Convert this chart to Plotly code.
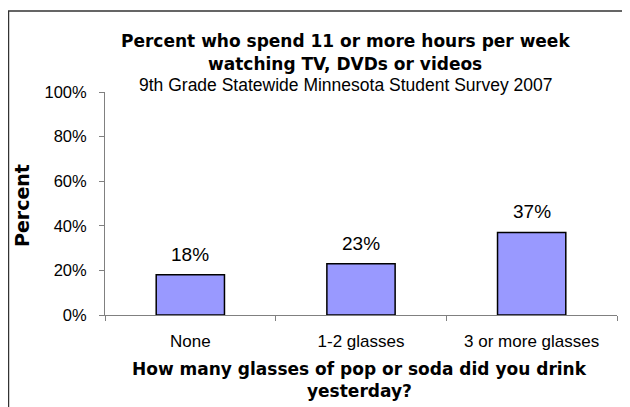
import plotly.graph_objects as go

categories = ["None", "1-2 glasses", "3 or more glasses"]
values = [18, 23, 37]
y_ticks = [0, 20, 40, 60, 80, 100]
y_tick_labels = ["0%", "20%", "40%", "60%", "80%", "100%"]

title_line1 = "Percent who spend 11 or more hours per week"
title_line2 = "watching TV, DVDs or videos"
subtitle = "9th Grade Statewide Minnesota Student Survey 2007"
x_title_1 = "How many glasses of pop or soda did you drink"
x_title_2 = "yesterday?"
y_title = "Percent"

ARIAL = "Arial, Liberation Sans, sans-serif"
BOLD = "DejaVu Sans, Arial, sans-serif"

fig = go.Figure()
fig.add_trace(go.Bar(
    x=categories, y=values, width=0.4,
    marker=dict(color="#9999FF", line=dict(color="#000000", width=1.5)),
    hoverinfo="skip",
))

for c, v in zip(categories, values):
    fig.add_annotation(x=c, y=v, text=f"{v}%", showarrow=False, yanchor="bottom",
                       yshift=8, font=dict(family=ARIAL, size=19, color="#000"))

def ann(text, x, y, font, textangle=0):
    fig.add_annotation(text=text, x=x, y=y, xref="paper", yref="paper", showarrow=False,
                       xanchor="center", yanchor="middle", font=font, textangle=textangle)

ann(title_line1, 0.469, 1.2287, dict(family=BOLD, size=17, color="#000", weight="bold"))
ann(title_line2, 0.469, 1.125, dict(family=BOLD, size=17, color="#000", weight="bold"))
ann(subtitle, 0.469, 1.0314, dict(family=ARIAL, size=17.5, color="#000"))
ann(x_title_1, 0.498, -0.2422, dict(family=BOLD, size=17, color="#000", weight="bold"))
ann(x_title_2, 0.498, -0.3408, dict(family=BOLD, size=17, color="#000", weight="bold"))
ann(y_title, -0.162, 0.489, dict(family=BOLD, size=19, color="#000", weight="bold"), textangle=-90)

fig.add_shape(type="rect", xref="paper", yref="paper", x0=-0.1885, x1=1.05, y0=-0.45, y1=1.3632,
              line=dict(color="#333333", width=1.5), fillcolor="rgba(0,0,0,0)", layer="below")

fig.update_layout(
    width=622, height=399,
    margin=dict(l=97, r=13, t=84, b=92),
    paper_bgcolor="white", plot_bgcolor="white",
    showlegend=False,
    xaxis=dict(showline=True, linecolor="#808080", linewidth=1, ticks="outside", ticklen=5,
               tickcolor="#808080", tickson="boundaries", showgrid=False,
               tickfont=dict(family=ARIAL, size=17, color="#000"), ticklabelstandoff=11),
    yaxis=dict(range=[0, 100], tickvals=y_ticks, ticktext=y_tick_labels, showline=True,
               linecolor="#808080", linewidth=1, ticks="outside", ticklen=5, tickcolor="#808080",
               showgrid=False, zeroline=False,
               tickfont=dict(family=ARIAL, size=16.5, color="#000"), ticklabelstandoff=9),
)

fig.write_html("out.html")
